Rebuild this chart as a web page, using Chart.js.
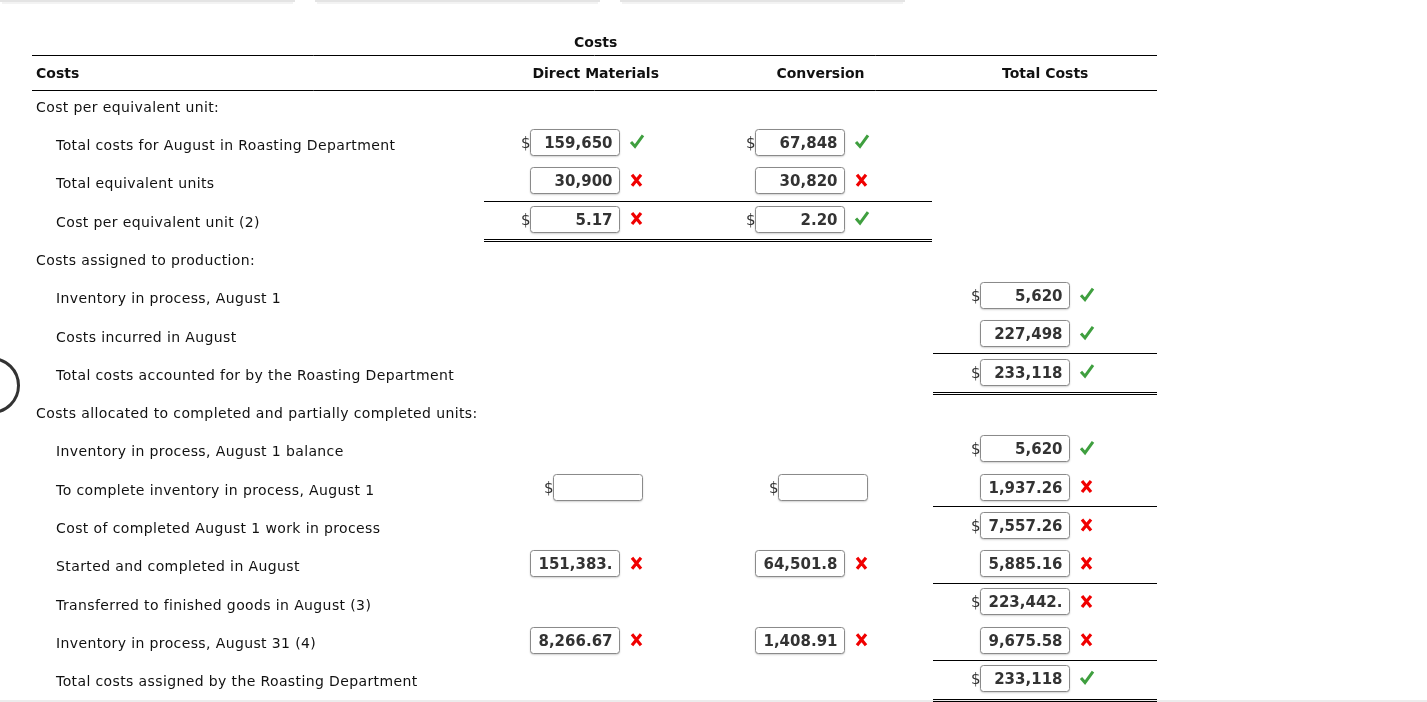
<!DOCTYPE html>
<html>
<head>
<meta charset="utf-8">
<script src="https://cdn.jsdelivr.net/npm/chart.js@4"></script>
<style>
  html, body { margin: 0; padding: 0; background: #fff; }
  #wrap { width: 1427px; height: 702px; }
</style>
</head>
<body>
<div id="wrap"><canvas id="costs-canvas" width="1427" height="702"></canvas></div>
<script>
// rows of the cost report
const rowLabels = [
    'Cost per equivalent unit:',
    'Total costs for August in Roasting Department',
    'Total equivalent units',
    'Cost per equivalent unit (2)',
    'Costs assigned to production:',
    'Inventory in process, August 1',
    'Costs incurred in August',
    'Total costs accounted for by the Roasting Department',
    'Costs allocated to completed and partially completed units:',
    'Inventory in process, August 1 balance',
    'To complete inventory in process, August 1',
    'Cost of completed August 1 work in process',
    'Started and completed in August',
    'Transferred to finished goods in August (3)',
    'Inventory in process, August 31 (4)',
    'Total costs assigned by the Roasting Department'
];
const rowIndent = [0, 1, 1, 1, 0, 1, 1, 1, 0, 1, 1, 1, 1, 1, 1, 1];
const columnHeaders = ['Direct Materials', 'Conversion', 'Total Costs'];

// entered values ('' = empty box, null = no box)
const dmValues = [null, '159,650', '30,900', '5.17', null, null, null, null, null, null, '', null, '151,383.', null, '8,266.67', null];
const dmDollar = [0, 1, 0, 1, 0, 0, 0, 0, 0, 0, 1, 0, 0, 0, 0, 0];
const dmMarks = [null, 'ok', 'x', 'x', null, null, null, null, null, null, null, null, 'x', null, 'x', null];

const convValues = [null, '67,848', '30,820', '2.20', null, null, null, null, null, null, '', null, '64,501.8', null, '1,408.91', null];
const convDollar = [0, 1, 0, 1, 0, 0, 0, 0, 0, 0, 1, 0, 0, 0, 0, 0];
const convMarks = [null, 'ok', 'x', 'ok', null, null, null, null, null, null, null, null, 'x', null, 'x', null];

const totalValues = [null, null, null, null, null, '5,620', '227,498', '233,118', null, '5,620', '1,937.26', '7,557.26', '5,885.16', '223,442.', '9,675.58', '233,118'];
const totalDollar = [0, 0, 0, 0, 0, 1, 0, 1, 0, 1, 0, 1, 0, 1, 0, 1];
const totalMarks = [null, null, null, null, null, 'ok', 'ok', 'ok', null, 'ok', 'x', 'x', 'x', 'x', 'x', 'ok'];

function toPoints(col, values, dollars, marks) {
    const pts = [];
    values.forEach((v, i) => {
        if (v === null) return;
        pts.push({ x: col, y: i, text: v, dollar: !!dollars[i], mark: marks[i] });
    });
    return pts;
}

const FONT = "'DejaVu Sans', Verdana, sans-serif";

function drawMark(ctx, cx, cy, mark) {
    if (!mark) return;
    ctx.save();
    ctx.lineCap = 'butt';
    ctx.lineJoin = 'miter';
    if (mark === 'ok') {
        ctx.strokeStyle = '#3f9f3f';
        ctx.lineWidth = 3;
        ctx.beginPath();
        ctx.moveTo(cx - 5.5, cy);
        ctx.lineTo(cx - 1.5, cy + 4.5);
        ctx.lineTo(cx + 6.5, cy - 6.5);
        ctx.stroke();
    } else {
        ctx.strokeStyle = '#f00000';
        ctx.lineWidth = 3.2;
        ctx.beginPath();
        ctx.moveTo(cx - 4.5, cy - 5.5);
        ctx.lineTo(cx + 4.5, cy + 5.5);
        ctx.moveTo(cx + 4.5, cy - 5.5);
        ctx.lineTo(cx - 4.5, cy + 5.5);
        ctx.stroke();
    }
    ctx.restore();
}

function drawBox(ctx, cx, cy, cell) {
    const shift = cell.text === '' ? 23 : 0;
    const w = 89, h = 26, r = 3;
    const left = Math.round(cx - 45 + shift) + 0.5;
    const top = Math.round(cy - 13) + 0.5;

    ctx.save();
    ctx.shadowColor = 'rgba(0,0,0,0.28)';
    ctx.shadowBlur = 2;
    ctx.shadowOffsetY = 1;
    ctx.beginPath();
    ctx.moveTo(left + r, top);
    ctx.lineTo(left + w - r, top);
    ctx.quadraticCurveTo(left + w, top, left + w, top + r);
    ctx.lineTo(left + w, top + h - r);
    ctx.quadraticCurveTo(left + w, top + h, left + w - r, top + h);
    ctx.lineTo(left + r, top + h);
    ctx.quadraticCurveTo(left, top + h, left, top + h - r);
    ctx.lineTo(left, top + r);
    ctx.quadraticCurveTo(left, top, left + r, top);
    ctx.closePath();
    ctx.fillStyle = '#fff';
    ctx.fill();
    ctx.shadowColor = 'transparent';
    ctx.strokeStyle = '#8a8a8a';
    ctx.lineWidth = 1;
    ctx.stroke();
    ctx.clip();

    ctx.fillStyle = '#333';
    ctx.font = 'bold 15px ' + FONT;
    ctx.textBaseline = 'middle';
    const tw = ctx.measureText(cell.text).width;
    if (tw > w - 14) {
        ctx.textAlign = 'left';
        ctx.fillText(cell.text, left + 7, top + h / 2 + 2);
    } else {
        ctx.textAlign = 'right';
        ctx.fillText(cell.text, left + w - 7, top + h / 2 + 2);
    }
    ctx.restore();

    if (cell.dollar) {
        ctx.save();
        ctx.fillStyle = '#333';
        ctx.font = '15px ' + FONT;
        ctx.textAlign = 'right';
        ctx.textBaseline = 'middle';
        ctx.fillText('$', left, top + h / 2 + 2);
        ctx.restore();
    }
    drawMark(ctx, left + w + 17, cy, cell.mark);
}

const tablePlugin = {
    id: 'tableCells',
    afterDatasetsDraw(chart, args, opts) {
        const { ctx } = chart;
        const x = chart.scales.x;
        const y = chart.scales.y;

        // page bits around the table
        ctx.save();
        [[0, 295], [315, 600], [620, 905]].forEach(([a, b]) => {
            ctx.fillStyle = '#e4e4e4';
            ctx.fillRect(a, 0, b - a, 2);
            ctx.fillStyle = '#f3f3f3';
            ctx.fillRect(a + 2, 2, b - a - 4, 2);
        });
        ctx.fillStyle = '#ececec';
        ctx.fillRect(0, 700, chart.width, 2);
        ctx.strokeStyle = '#333';
        ctx.lineWidth = 3;
        ctx.beginPath();
        ctx.arc(-8.5, 385.5, 27, 0, Math.PI * 2);
        ctx.stroke();
        ctx.restore();

        // rules
        ctx.save();
        ctx.strokeStyle = '#000';
        ctx.lineWidth = 1;
        opts.rules.forEach(rule => {
            const x0 = Math.round(x.getPixelForValue(rule.from));
            const x1 = Math.round(x.getPixelForValue(rule.to));
            const yy = Math.round(y.getPixelForValue(rule.at)) + 0.5;
            ctx.beginPath();
            ctx.moveTo(x0, yy);
            ctx.lineTo(x1, yy);
            if (rule.double) {
                ctx.moveTo(x0, yy + 2);
                ctx.lineTo(x1, yy + 2);
            }
            ctx.stroke();
        });
        ctx.restore();

        // headers
        ctx.save();
        ctx.fillStyle = '#111';
        ctx.font = 'bold 14px ' + FONT;
        ctx.textBaseline = 'middle';
        ctx.textAlign = 'center';
        ctx.fillText('Costs', x.getPixelForValue(1.09), y.getPixelForValue(-1.61) + 1);
        columnHeaders.forEach((h, i) => {
            ctx.fillText(h, x.getPixelForValue(i + 1.09), y.getPixelForValue(-0.8) + 1);
        });
        ctx.textAlign = 'left';
        ctx.fillText('Costs', x.getPixelForValue(-1.4), y.getPixelForValue(-0.8) + 1);

        // row labels
        ctx.font = '14px ' + FONT;
        ctx.letterSpacing = '0.38px';
        rowLabels.forEach((label, i) => {
            ctx.fillText(label, x.getPixelForValue(-1.4) + rowIndent[i] * 20, y.getPixelForValue(i) + 4.5);
        });
        ctx.restore();

        // value boxes
        chart.data.datasets.forEach((ds, di) => {
            const meta = chart.getDatasetMeta(di);
            meta.data.forEach((pt, j) => drawBox(ctx, pt.x, pt.y, ds.data[j]));
        });
    }
};

new Chart(document.getElementById('costs-canvas'), {
    type: 'scatter',
    data: {
        datasets: [
            { label: columnHeaders[0], data: toPoints(1, dmValues, dmDollar, dmMarks), pointRadius: 0 },
            { label: columnHeaders[1], data: toPoints(2, convValues, convDollar, convMarks), pointRadius: 0 },
            { label: columnHeaders[2], data: toPoints(3, totalValues, totalDollar, totalMarks), pointRadius: 0 }
        ]
    },
    options: {
        responsive: false,
        animation: false,
        events: [],
        layout: { padding: 0 },
        scales: {
            x: { type: 'linear', display: false, min: -1.5606, max: 4.7887 },
            y: { type: 'linear', display: false, reverse: true, min: -2.708, max: 15.625 }
        },
        plugins: {
            legend: { display: false },
            tooltip: { enabled: false },
            tableCells: {
                rules: [
                    { at: -1.272, from: -1.418, to: 3.587 },
                    { at: -0.358, from: -1.418, to: 3.587 },
                    { at: 2.53, from: 0.593, to: 2.587 },
                    { at: 3.53, from: 0.593, to: 2.587, double: true },
                    { at: 6.51, from: 2.591, to: 3.587 },
                    { at: 7.53, from: 2.591, to: 3.587, double: true },
                    { at: 10.51, from: 2.591, to: 3.587 },
                    { at: 12.52, from: 2.591, to: 3.587 },
                    { at: 14.53, from: 2.591, to: 3.587 },
                    { at: 15.54, from: 2.591, to: 3.587, double: true }
                ]
            }
        }
    },
    plugins: [tablePlugin]
});
</script>
</body>
</html>
